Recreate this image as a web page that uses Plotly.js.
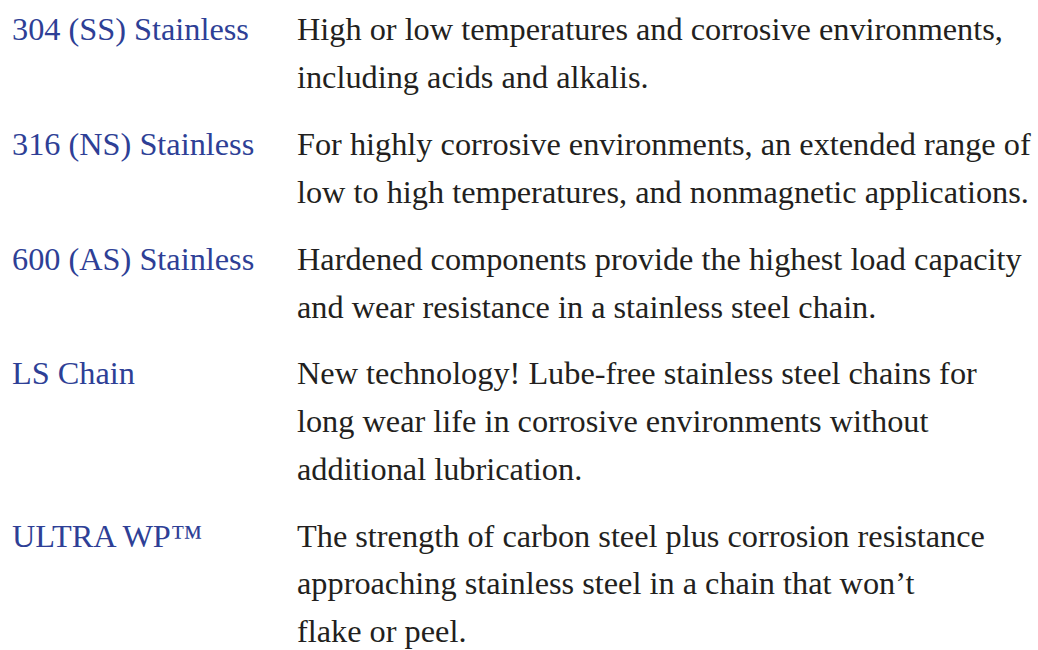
<!DOCTYPE html>
<html>
<head>
<meta charset="utf-8">
<script src="https://cdn.plot.ly/plotly-3.0.1.min.js"></script>
<style>
html,body{margin:0;padding:0;background:#fff;}
#chart{width:1038px;height:650px;}
</style>
</head>
<body>
<div id="chart"></div>
<script>
// Data
const materials = [
  "304 (SS) Stainless",
  "316 (NS) Stainless",
  "600 (AS) Stainless",
  "LS Chain",
  "ULTRA WP™"
];
const descriptions = [
  ["High or low temperatures and corrosive environments,",
   "including acids and alkalis."],
  ["For highly corrosive environments, an extended range of",
   "low to high temperatures, and nonmagnetic applications."],
  ["Hardened components provide the highest load capacity",
   "and wear resistance in a stainless steel chain."],
  ["New technology! Lube-free stainless steel chains for",
   "long wear life in corrosive environments without",
   "additional lubrication."],
  ["The strength of carbon steel plus corrosion resistance",
   "approaching stainless steel in a chain that won’t",
   "flake or peel."]
];

// Layout constants (pixels)
const W = 1038, H = 650;
const FONT = "Liberation Serif, Times New Roman, serif";
const SIZE = 32.3;
const labelX = 12, descX = 297;
const firstBaseline = 42, lineH = 47.8, rowGap = 19;
const baselineShift = 5.5; // offset of annotation bottom relative to baseline

const px = x => x / W;
const py = y => 1 - y / H;

const annotations = [];
let base = firstBaseline;
materials.forEach((m, i) => {
  annotations.push({
    x: px(labelX), y: py(base + baselineShift), xref: 'paper', yref: 'paper',
    text: m, showarrow: false, xanchor: 'left', yanchor: 'bottom',
    borderpad: 0, borderwidth: 0,
    font: {family: FONT, size: SIZE, color: '#2e3f96'}
  });
  descriptions[i].forEach((line, j) => {
    annotations.push({
      x: px(descX), y: py(base + j * lineH + baselineShift), xref: 'paper', yref: 'paper',
      text: line, showarrow: false, xanchor: 'left', yanchor: 'bottom',
      borderpad: 0, borderwidth: 0,
      font: {family: FONT, size: SIZE, color: '#231f20'}
    });
  });
  base += descriptions[i].length * lineH + rowGap;
});

const layout = {
  width: W, height: H,
  margin: {l: 0, r: 0, t: 0, b: 0, pad: 0},
  paper_bgcolor: '#ffffff', plot_bgcolor: '#ffffff',
  xaxis: {range: [0, W], visible: false, fixedrange: true},
  yaxis: {range: [H, 0], visible: false, fixedrange: true},
  showlegend: false,
  annotations: annotations
};

Plotly.newPlot('chart', [], layout, {staticPlot: true, displayModeBar: false});
</script>
</body>
</html>
